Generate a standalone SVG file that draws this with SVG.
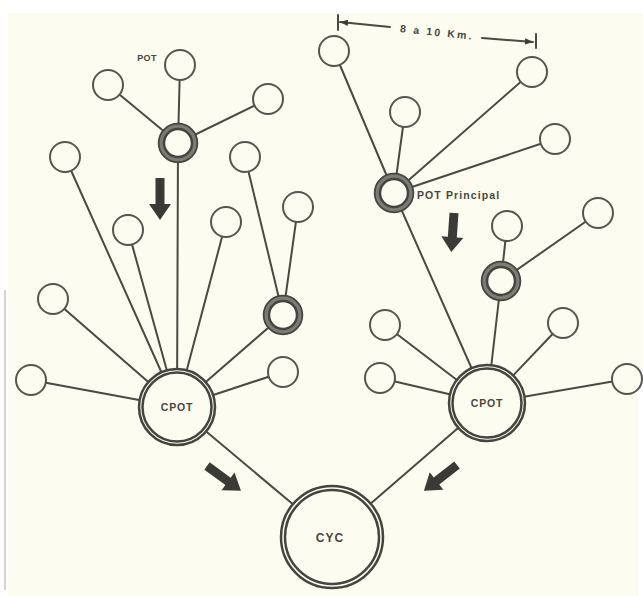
<svg xmlns="http://www.w3.org/2000/svg" width="643" height="596" viewBox="0 0 643 596">
<defs>
<style>
.bg{fill:#fdfcf1}
.ln{stroke:#4a4a44;stroke-width:2;fill:none;stroke-linecap:round}
.n{fill:#fdfcf1;stroke:#55554f;stroke-width:2}
.dr{fill:#fdfcf1;stroke:#444440;stroke-width:2.5}
.ring{fill:none;stroke:#7c7c76;stroke-width:4}
.t{font-family:"Liberation Sans",Arial,sans-serif;font-weight:bold;fill:#46463f}
.arr{fill:#3a3a36}
</style>
<path id="blk" d="M-4.5,0 L4.5,0 L4.5,26 L11,26 L0,42 L-11,26 L-4.5,26 Z"/>
<marker id="ah" viewBox="0 0 10 10" refX="10" refY="5" markerWidth="8" markerHeight="8" orient="auto-start-reverse" markerUnits="userSpaceOnUse"><path d="M0,1 L10,5 L0,9 Z" fill="#3c3c38"/></marker>
</defs>
<rect width="643" height="596" fill="#ffffff"/>
<rect class="bg" x="8" y="13" width="635" height="583"/>
<rect x="638" y="368" width="5" height="228" fill="#ffffff"/>
<line x1="5" y1="290" x2="5" y2="590" stroke="#c8c8c0" stroke-width="1.5"/>

<g id="connectors">
<line class="ln" x1="180" y1="65" x2="178" y2="143"/>
<line class="ln" x1="108" y1="85" x2="178" y2="143"/>
<line class="ln" x1="268" y1="99" x2="178" y2="143"/>
<line class="ln" x1="178" y1="143" x2="177" y2="407"/>
<line class="ln" x1="65" y1="157" x2="177" y2="407"/>
<line class="ln" x1="128" y1="230" x2="177" y2="407"/>
<line class="ln" x1="226" y1="222" x2="177" y2="407"/>
<line class="ln" x1="245" y1="157" x2="283" y2="315"/>
<line class="ln" x1="298" y1="207" x2="283" y2="315"/>
<line class="ln" x1="283" y1="315" x2="177" y2="407"/>
<line class="ln" x1="53" y1="299" x2="177" y2="407"/>
<line class="ln" x1="31" y1="380" x2="177" y2="407"/>
<line class="ln" x1="283" y1="372" x2="177" y2="407"/>
<line class="ln" x1="177" y1="407" x2="332" y2="537"/>

<line class="ln" x1="334" y1="51" x2="394" y2="193"/>
<line class="ln" x1="405" y1="112" x2="394" y2="193"/>
<line class="ln" x1="532" y1="72" x2="394" y2="193"/>
<line class="ln" x1="555" y1="139" x2="394" y2="193"/>
<line class="ln" x1="394" y1="193" x2="487" y2="403"/>
<line class="ln" x1="507" y1="226" x2="501" y2="281"/>
<line class="ln" x1="598" y1="213" x2="501" y2="281"/>
<line class="ln" x1="501" y1="281" x2="487" y2="403"/>
<line class="ln" x1="385" y1="325" x2="487" y2="403"/>
<line class="ln" x1="380" y1="378" x2="487" y2="403"/>
<line class="ln" x1="563" y1="323" x2="487" y2="403"/>
<line class="ln" x1="627" y1="379" x2="487" y2="403"/>
<line class="ln" x1="487" y1="403" x2="332" y2="537"/>

<line class="ln" x1="390" y1="27" x2="340" y2="22" stroke-width="1.5" marker-end="url(#ah)"/>
<line class="ln" x1="482" y1="38" x2="533" y2="42" stroke-width="1.5" marker-end="url(#ah)"/>
<line class="ln" x1="338" y1="15" x2="338" y2="30" stroke-width="1.2"/>
<line class="ln" x1="536" y1="34" x2="536" y2="48" stroke-width="1.2"/>
</g>

<g id="arrows">
<use href="#blk" class="arr" transform="translate(160,178)"/>
<use href="#blk" class="arr" transform="translate(454,213) rotate(4) scale(1,0.93)"/>
<use href="#blk" class="arr" transform="translate(207,466) rotate(-54)"/>
<use href="#blk" class="arr" transform="translate(457,465) rotate(52)"/>
</g>

<g id="n-pot-top"><circle class="n" cx="180" cy="65" r="15"/></g>
<g id="n-l1"><circle class="n" cx="108" cy="85" r="15"/></g>
<g id="n-l2"><circle class="n" cx="268" cy="99" r="15"/></g>
<g id="n-pot-left"><circle class="dr" cx="178" cy="143" r="19"/><circle class="ring" cx="178" cy="143" r="16.5"/><circle class="dr" cx="178" cy="143" r="14" fill="none"/></g>
<g id="n-l3"><circle class="n" cx="65" cy="157" r="15"/></g>
<g id="n-l4"><circle class="n" cx="245" cy="157" r="15"/></g>
<g id="n-l5"><circle class="n" cx="298" cy="207" r="15"/></g>
<g id="n-l6"><circle class="n" cx="128" cy="230" r="15"/></g>
<g id="n-l7"><circle class="n" cx="226" cy="222" r="15"/></g>
<g id="n-l8"><circle class="n" cx="53" cy="299" r="15"/></g>
<g id="n-pot-left2"><circle class="dr" cx="283" cy="315" r="19"/><circle class="ring" cx="283" cy="315" r="16.5"/><circle class="dr" cx="283" cy="315" r="14" fill="none"/></g>
<g id="n-l9"><circle class="n" cx="31" cy="380" r="15"/></g>
<g id="n-l10"><circle class="n" cx="283" cy="372" r="15"/></g>
<g id="n-cpot-left"><circle class="dr" cx="177" cy="407" r="38"/><circle class="dr" cx="177" cy="407" r="34.5"/><text class="t" x="177" y="411" font-size="10.5" letter-spacing="0.8" text-anchor="middle">CPOT</text></g>

<g id="n-r1"><circle class="n" cx="334" cy="51" r="15"/></g>
<g id="n-r2"><circle class="n" cx="532" cy="72" r="15"/></g>
<g id="n-r3"><circle class="n" cx="405" cy="112" r="15"/></g>
<g id="n-r4"><circle class="n" cx="555" cy="139" r="15"/></g>
<g id="n-pot-principal"><circle class="dr" cx="394" cy="193" r="19"/><circle class="ring" cx="394" cy="193" r="16.5"/><circle class="dr" cx="394" cy="193" r="14" fill="none"/></g>
<g id="n-r5"><circle class="n" cx="507" cy="226" r="15"/></g>
<g id="n-r6"><circle class="n" cx="598" cy="213" r="15"/></g>
<g id="n-pot-right2"><circle class="dr" cx="501" cy="281" r="19"/><circle class="ring" cx="501" cy="281" r="16.5"/><circle class="dr" cx="501" cy="281" r="14" fill="none"/></g>
<g id="n-r7"><circle class="n" cx="385" cy="325" r="15"/></g>
<g id="n-r8"><circle class="n" cx="563" cy="323" r="15"/></g>
<g id="n-r9"><circle class="n" cx="380" cy="378" r="15"/></g>
<g id="n-r10"><circle class="n" cx="627" cy="379" r="15"/></g>
<g id="n-cpot-right"><circle class="dr" cx="487" cy="403" r="38"/><circle class="dr" cx="487" cy="403" r="34.5"/><text class="t" x="487" y="407" font-size="10.5" letter-spacing="0.8" text-anchor="middle">CPOT</text></g>

<g id="n-cyc"><circle class="dr" cx="332" cy="537" r="51"/><circle class="dr" cx="332" cy="537" r="47"/><text class="t" x="330" y="541.5" font-size="12" letter-spacing="1" text-anchor="middle">CYC</text></g>

<g id="labels">
<text class="t" x="147" y="60.5" font-size="9" letter-spacing="0.4" text-anchor="middle">POT</text>
<text class="t" x="417" y="198.5" font-size="10.5" letter-spacing="1.1">POT Principal</text>
<text class="t" x="437" y="36" font-size="10.5" letter-spacing="2.2" text-anchor="middle" transform="rotate(6 437 32)">8 a 10 Km.</text>
</g>
</svg>
